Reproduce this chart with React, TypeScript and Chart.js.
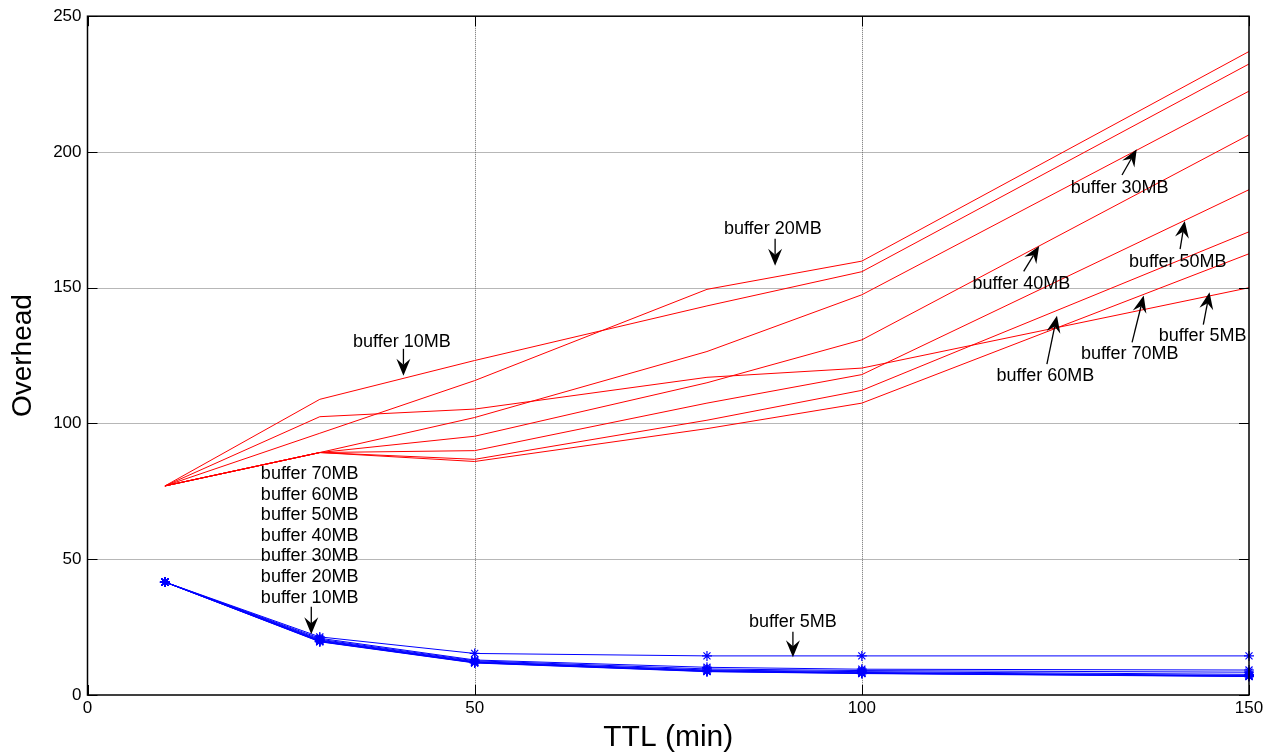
import { useEffect, useRef } from "react";
import { Chart, registerables } from "chart.js";
Chart.register(...registerables);

const FONT = "'Liberation Sans', Arial, Helvetica, sans-serif";

// TTL (min) sample points
const ttl = [10, 30, 50, 80, 100, 150];

// red family of curves
const redNames = ["buffer 5MB", "buffer 10MB", "buffer 20MB", "buffer 30MB", "buffer 40MB", "buffer 50MB", "buffer 60MB", "buffer 70MB"];
const red5 = [77, 102.5, 105.3, 117, 120.4, 150];
const red10 = [77, 108.9, 123.2, 143.3, 155.9, 232.4];
const red20 = [77, 96.4, 115.8, 149.4, 159.8, 237];
const red30 = [77, 89.3, 102.2, 126.5, 147.4, 222.4];
const red40 = [77, 89.3, 95.3, 115, 130.8, 206.3];
const red50 = [77, 89.3, 90, 107.5, 118, 186.1];
const red60 = [77, 89.3, 86.8, 101.2, 112.2, 170.6];
const red70 = [77, 89.3, 86, 98.1, 107.5, 162.5];
const redSeries = [red5, red10, red20, red30, red40, red50, red60, red70];

// blue family of curves
const blue5 = [41.6, 21.4, 15.3, 14.4, 14.4, 14.4];
const blue10 = [41.6, 20.9, 12.9, 10.2, 9.5, 9.2];
const blue20 = [41.6, 20.5, 12.6, 9.6, 9.0, 8.4];
const blue30 = [41.6, 20.2, 12.3, 9.2, 8.6, 7.6];
const blue40 = [41.6, 20.0, 12.1, 9.0, 8.3, 7.2];
const blue50 = [41.6, 19.8, 12.0, 8.8, 8.1, 7.0];
const blue60 = [41.6, 19.7, 11.9, 8.7, 8.0, 6.9];
const blue70 = [41.6, 19.6, 11.8, 8.6, 7.9, 6.8];
const blueSeries = [blue5, blue10, blue20, blue30, blue40, blue50, blue60, blue70];

// axes
const xTicks = [0, 50, 100, 150];
const yTicks = [0, 50, 100, 150, 200, 250];
const xGrid = [50, 100];
const yGrid = [50, 100, 150, 200];

// annotation texts (anchor in data coordinates, centered on x, baseline on y)
const noteText = [
  "buffer 10MB", "buffer 20MB", "buffer 30MB", "buffer 40MB", "buffer 50MB",
  "buffer 5MB", "buffer 70MB", "buffer 60MB",
  "buffer 70MB", "buffer 60MB", "buffer 50MB", "buffer 40MB", "buffer 30MB", "buffer 20MB", "buffer 10MB",
  "buffer 5MB",
];
const noteX = [40.6, 88.5, 133.3, 120.6, 140.8, 144.0, 134.6, 123.7, 28.7, 28.7, 28.7, 28.7, 28.7, 28.7, 28.7, 91.1];
const noteY = [128.3, 169.7, 185.0, 149.5, 157.8, 130.5, 123.8, 115.8, 79.6, 71.9, 64.3, 56.8, 49.2, 41.5, 33.9, 25.1];

// arrows (tail -> tip) in data coordinates
const arrowX1 = [40.8, 88.8, 133.6, 120.9, 141.1, 144.1, 134.9, 123.9, 28.9, 91.1];
const arrowY1 = [127.5, 168.0, 191.5, 156.0, 164.2, 136.4, 129.9, 121.9, 32.5, 23.3];
const arrowX2 = [40.8, 88.8, 135.5, 122.9, 141.7, 144.9, 136.4, 125.2, 28.9, 91.1];
const arrowY2 = [117.6, 158.1, 201.0, 165.4, 174.6, 148.3, 147.1, 139.7, 22.4, 13.9];

function drawArrow(ctx: CanvasRenderingContext2D, x1: number, y1: number, x2: number, y2: number) {
  const ang = Math.atan2(y2 - y1, x2 - x1);
  const c = Math.cos(ang), s = Math.sin(ang);
  const L = 17, W = 7, notch = 6;
  ctx.beginPath();
  ctx.moveTo(x1, y1);
  ctx.lineTo(x2 - c * (L - notch), y2 - s * (L - notch));
  ctx.stroke();
  const bx = x2 - c * L, by = y2 - s * L;
  const nx = -s, ny = c;
  ctx.beginPath();
  ctx.moveTo(x2, y2);
  ctx.lineTo(bx + nx * W, by + ny * W);
  ctx.lineTo(x2 - c * (L - notch), y2 - s * (L - notch));
  ctx.lineTo(bx - nx * W, by - ny * W);
  ctx.closePath();
  ctx.fill();
}

const matlabPlugin = {
  id: "matlabDecor",
  beforeDatasetsDraw(chart: any) {
    const { ctx, chartArea: a, scales } = chart;
    const x = scales.x, y = scales.y;
    ctx.save();
    ctx.strokeStyle = "#6e6e6e";
    ctx.lineWidth = 1;
    ctx.setLineDash([1, 1]);
    for (const v of xGrid) {
      const px = Math.round(x.getPixelForValue(v)) + 0.5;
      ctx.beginPath(); ctx.moveTo(px, a.top); ctx.lineTo(px, a.bottom); ctx.stroke();
    }
    for (const v of yGrid) {
      const py = Math.round(y.getPixelForValue(v)) + 0.5;
      ctx.beginPath(); ctx.moveTo(a.left, py); ctx.lineTo(a.right, py); ctx.stroke();
    }
    ctx.restore();
  },
  afterDatasetsDraw(chart: any) {
    const { ctx, chartArea: a, scales } = chart;
    const x = scales.x, y = scales.y;
    ctx.save();
    // box
    ctx.strokeStyle = "#000";
    ctx.lineWidth = 1.5;
    ctx.setLineDash([]);
    ctx.strokeRect(a.left, a.top, a.right - a.left, a.bottom - a.top);
    // inward ticks on all four sides
    const tl = 10;
    ctx.lineWidth = 1;
    for (const v of xTicks) {
      const px = Math.round(x.getPixelForValue(v)) + 0.5;
      ctx.beginPath(); ctx.moveTo(px, a.bottom); ctx.lineTo(px, a.bottom - tl); ctx.stroke();
      ctx.beginPath(); ctx.moveTo(px, a.top); ctx.lineTo(px, a.top + tl); ctx.stroke();
    }
    for (const v of yTicks) {
      const py = Math.round(y.getPixelForValue(v)) + 0.5;
      ctx.beginPath(); ctx.moveTo(a.left, py); ctx.lineTo(a.left + tl, py); ctx.stroke();
      ctx.beginPath(); ctx.moveTo(a.right, py); ctx.lineTo(a.right - tl, py); ctx.stroke();
    }
    // annotation texts
    ctx.fillStyle = "#000";
    ctx.font = `18px ${FONT}`;
    ctx.textAlign = "center";
    ctx.textBaseline = "alphabetic";
    noteText.forEach((t, i) => {
      ctx.fillText(t, x.getPixelForValue(noteX[i]), y.getPixelForValue(noteY[i]));
    });
    // arrows
    ctx.strokeStyle = "#000";
    ctx.lineWidth = 1.3;
    for (let i = 0; i < arrowX1.length; i++) {
      drawArrow(
        ctx,
        x.getPixelForValue(arrowX1[i]), y.getPixelForValue(arrowY1[i]),
        x.getPixelForValue(arrowX2[i]), y.getPixelForValue(arrowY2[i])
      );
    }
    ctx.restore();
  },
};

export default function App() {
  const ref = useRef<HTMLCanvasElement | null>(null);
  useEffect(() => {
    if (!ref.current) return;
    const toPts = (arr: number[]) => arr.map((v, i) => ({ x: ttl[i], y: v }));
    const datasets: any[] = [];
    redSeries.forEach((s, i) => {
      datasets.push({
        label: "red " + redNames[i],
        data: toPts(s),
        borderColor: "#ff0000",
        borderWidth: 1,
        pointRadius: 0,
        tension: 0,
        fill: false,
      });
    });
    blueSeries.forEach((s, i) => {
      datasets.push({
        label: "blue " + redNames[i],
        data: toPts(s),
        borderColor: "#0000ff",
        backgroundColor: "#0000ff",
        borderWidth: 1,
        pointRadius: 5,
        pointStyle: "star",
        pointBorderColor: "#0000ff",
        pointBorderWidth: 1.2,
        tension: 0,
        fill: false,
        clip: false,
      });
    });
    const chart = new Chart(ref.current, {
      type: "line",
      data: { datasets },
      options: {
        animation: false,
        responsive: false,
        maintainAspectRatio: false,
        layout: { padding: { top: 15, right: 30, left: 0, bottom: 0 } },
        plugins: { legend: { display: false }, tooltip: { enabled: false } },
        scales: {
          x: {
            type: "linear",
            min: 0,
            max: 150,
            afterBuildTicks: (s: any) => { s.ticks = xTicks.map((v) => ({ value: v })); },
            grid: { display: false, drawTicks: false },
            border: { display: false },
            ticks: { font: { family: FONT, size: 17 }, color: "#000", padding: 3, maxRotation: 0, autoSkip: false },
            title: { display: true, text: "TTL (min)", color: "#000", font: { family: FONT, size: 30, lineHeight: 1 }, padding: { top: 0, bottom: 0 } },
            afterFit: (s: any) => { s.height = 58; },
          },
          y: {
            type: "linear",
            min: 0,
            max: 250,
            afterBuildTicks: (s: any) => { s.ticks = yTicks.map((v) => ({ value: v })); },
            grid: { display: false, drawTicks: false },
            border: { display: false },
            ticks: { font: { family: FONT, size: 17 }, color: "#000", padding: 6, autoSkip: false },
            title: { display: true, text: "Overhead", color: "#000", font: { family: FONT, size: 28, lineHeight: 1 }, padding: { top: 9, bottom: 0 } },
            afterFit: (s: any) => { s.width = 87.5; },
          },
        },
      } as any,
      plugins: [matlabPlugin],
    });
    return () => chart.destroy();
  }, []);
  return (
    <div style={{ position: "fixed", left: 0, top: 0, width: 1279, height: 753, background: "#fff" }}>
      <canvas ref={ref} width={1279} height={753} style={{ display: "block" }} />
    </div>
  );
}
